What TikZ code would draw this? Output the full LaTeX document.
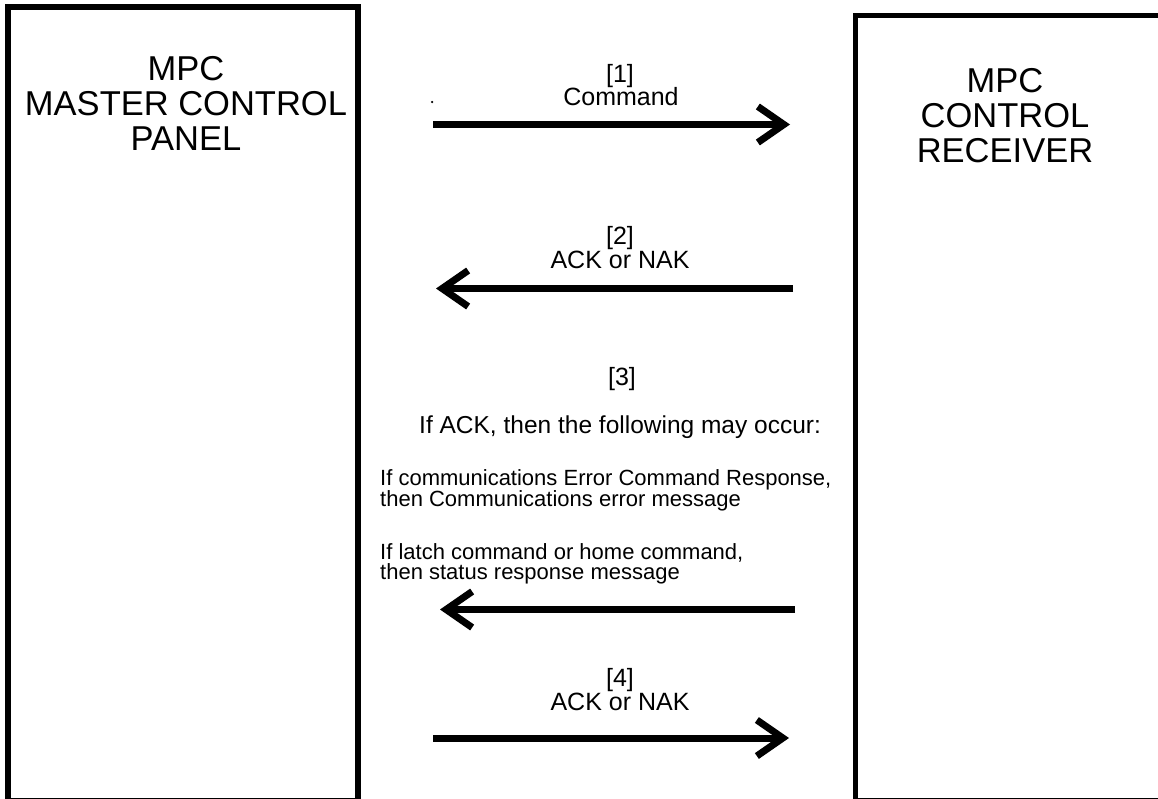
\documentclass[tikz,border=0pt]{standalone}
\usepackage{fontspec}
\setmainfont{Liberation Sans}
\usetikzlibrary{arrows.meta}
\begin{document}
\begin{tikzpicture}[x=1pt,y=-1pt,
  panel/.style={draw=black, line width=5.5pt},
  msg/.style={line width=7pt, -{Straight Barb[length=26pt,width=36pt]}},
  title/.style={font=\fontsize{34.5}{35}\selectfont, align=center, inner sep=0pt, anchor=north},
  lbl/.style={font=\fontsize{25}{22}\selectfont, inner sep=0pt, anchor=base},
  note/.style={font=\fontsize{22}{20}\selectfont, align=left, inner sep=0pt, anchor=north west}]
\clip (0,0) rectangle (1158,798);
\fill[white] (0,0) rectangle (1158,798);
% panels
\draw[panel] (8,7) rectangle (358,801);
\draw[panel] (855.5,15.5) rectangle (1165,801);
\node[title] (mcp) at (186,56) {MPC\\MASTER CONTROL\\PANEL};
\node[title] (rcv) at (1005,68) {MPC\\CONTROL\\RECEIVER};
% arrow end points
\coordinate (a1s) at (433,124.5); \coordinate (a1e) at (790,124.5);
\coordinate (a2s) at (793,288.5); \coordinate (a2e) at (436,288.5);
\coordinate (a3s) at (795,609.5); \coordinate (a3e) at (440,609.5);
\coordinate (a4s) at (433,738);   \coordinate (a4e) at (789,738);
\draw[msg] (a1s) -- (a1e);
\draw[msg] (a2s) -- (a2e);
\draw[msg] (a3s) -- (a3e);
\draw[msg] (a4s) -- (a4e);
% labels
\node[circle, fill=black, inner sep=0pt, minimum size=2.5pt] (dot) at (432,102) {};
\node[lbl] (l1n) at (620,82) {[1]};
\node[lbl] (l1) at (621,105) {Command};
\node[lbl] (l2n) at (620,244) {[2]};
\node[lbl] (l2) at (620,268) {ACK or NAK};
\node[lbl] (l3n) at (622,385) {[3]};
\node[lbl, anchor=base west, font=\fontsize{24.5}{24}\selectfont] (l3) at (419,433) {If ACK, then the following may occur:};
\node[note] (n1) at (380,469) {If communications Error Command Response,\\then Communications error message};
\node[note] (n2) at (380,543) {If latch command or home command,\\then status response message};
\node[lbl] (l4n) at (620,686) {[4]};
\node[lbl] (l4) at (620,710) {ACK or NAK};
\end{tikzpicture}
\end{document}
